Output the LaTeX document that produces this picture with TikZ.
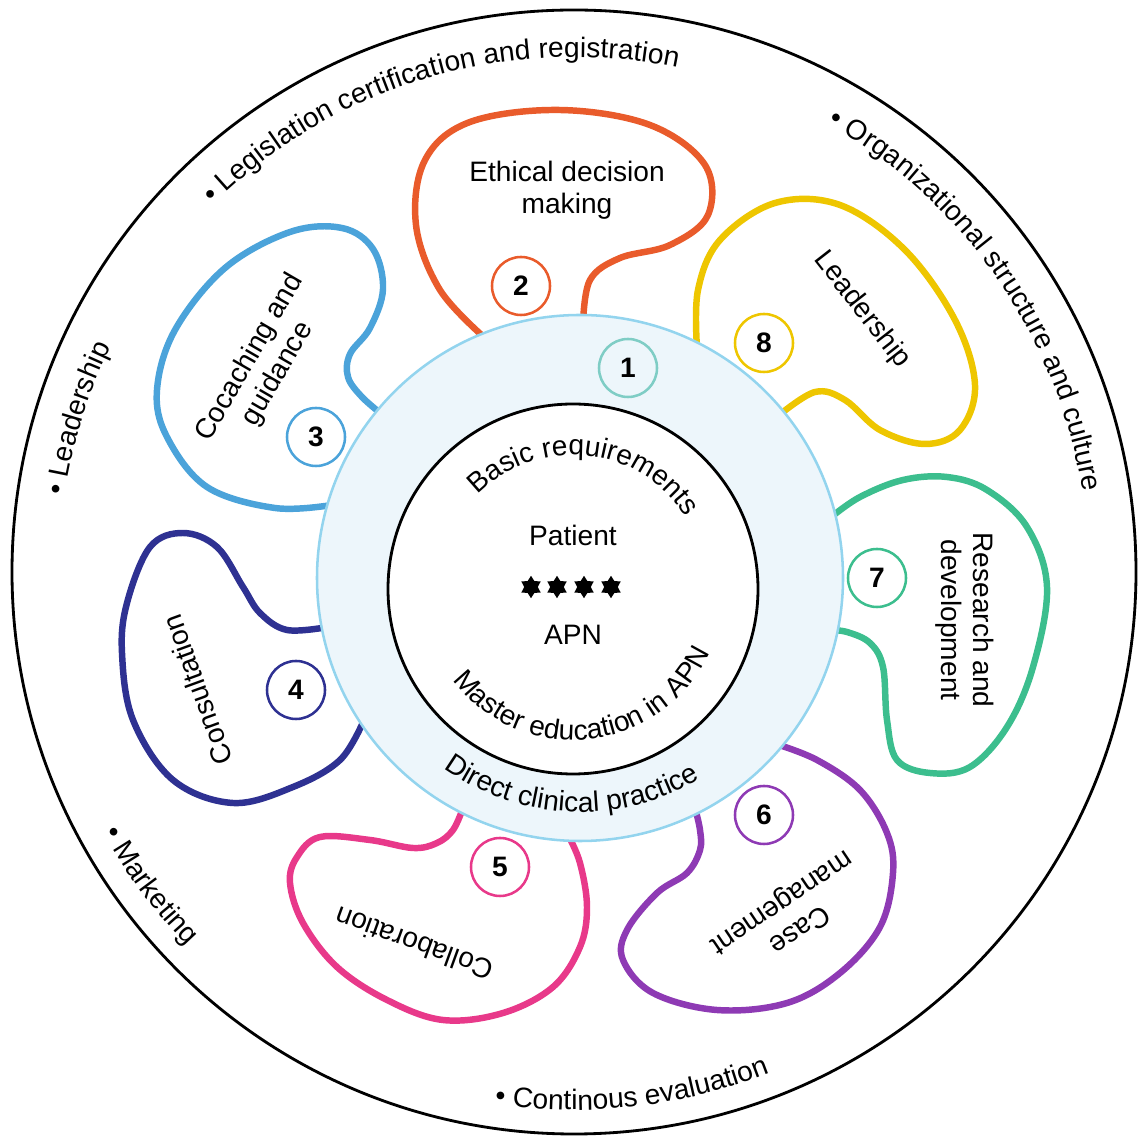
\documentclass[tikz,border=0pt]{standalone}
\usepackage{fontspec}
\setmainfont{Liberation Sans}
\usetikzlibrary{shapes.geometric,decorations.text}
\definecolor{ethred}{HTML}{E95B2B}
\definecolor{leadyellow}{HTML}{EEC600}
\definecolor{coachblue}{HTML}{4BA3DA}
\definecolor{consnavy}{HTML}{2E3192}
\definecolor{collpink}{HTML}{E8398A}
\definecolor{casepurple}{HTML}{8E3AB4}
\definecolor{resgreen}{HTML}{3CBE8E}
\definecolor{ringline}{HTML}{93D4EE}
\definecolor{ringfill}{HTML}{EDF6FB}
\definecolor{basicteal}{HTML}{7FCDC5}
\newcommand\lblfont{\fontsize{20}{23}\selectfont}
\newcommand\numfont{\fontsize{20}{23}\selectfont\bfseries}
\begin{document}
\begin{tikzpicture}[x=0.025cm, y=0.025cm,
        blob/.style = {line width=4.6pt, line join=round},
        num/.style = {circle, draw, line width=1.8pt, fill=white, minimum size=1.45cm, inner sep=0pt, font=\numfont},
        lbl/.style = {font=\lblfont, align=center},
        hexstar/.style = {star, star points=6, star point ratio=1.65, fill=black, inner sep=0pt, minimum size=0.56cm},
        arctext/.style = {decorate, decoration={text along path, text={|\lblfont|#1}}},
        arcmid/.style = {decorate, decoration={text along path, text align=center, text={|\lblfont|#1}}}
    ]
    \useasboundingbox (0,0) rectangle (1138,1139);
    \coordinate (O) at (574,567);
    \coordinate (R) at (580,561);
    \coordinate (I) at (573,550);
    \draw[line width=2pt] (O) circle[radius=562];
    % petals
    \draw[blob, ethred] plot[smooth, tension=0.6] coordinates {(486,800) (440,849) (416,914) (425,979) (470,1017) (560,1029) (650,1014) (705,974) (708,924) (670,894) (620,881) (590,859) (583,815)};
    \draw[blob, leadyellow] plot[smooth, tension=0.6] coordinates {(697,791) (698,849) (720,899) (775,936) (840,934) (905,889) (955,819) (975,754) (960,709) (925,695) (880,709) (845,739) (815,747) (778,723)};
    \draw[blob, coachblue] plot[smooth, tension=0.6] coordinates {(332,634) (275,631) (207,652) (167,702) (157,749) (175,809) (225,871) (290,907) (342,911) (373,890) (383,850) (370,811) (350,785) (348,762) (362,742) (384,723)};
    \draw[blob, consnavy] plot[smooth, tension=0.6] coordinates {(328,512) (287,509) (260,526) (243,552) (217,592) (183,606) (150,592) (127,536) (122,486) (133,419) (173,359) (233,336) (293,352) (340,379) (364,419)};
    \draw[blob, resgreen] plot[smooth, tension=0.6] coordinates {(830,621) (860,642) (903,659) (947,662) (987,649) (1027,612) (1047,552) (1033,472) (1007,412) (970,372) (930,366) (897,379) (887,419) (883,472) (870,496) (847,507) (828,509)};
    \draw[blob, casepurple] plot[smooth, tension=0.6] coordinates {(776,395) (817,379) (860,349) (887,306) (893,266) (880,212) (840,166) (787,136) (717,129) (653,146) (623,179) (627,209) (657,246) (687,266) (700,289) (700,309) (695,331)};
    \draw[blob, collpink] plot[smooth, tension=0.6] coordinates {(463,331) (453,309) (437,296) (413,291) (370,299) (320,302) (297,282) (290,256) (303,216) (337,172) (387,139) (443,119) (503,126) (553,152) (580,192) (587,232) (580,276) (568,304)};
    % rings
    \draw[line width=1.8pt, ringline, fill=ringfill] (R) circle[radius=263];
    \draw[line width=2pt, fill=white] (I) circle[radius=185];
    % centre
    \node[lbl] (patient) at (573,604) {Patient};
    \foreach \x [count=\i] in {531,557,584,611}
        \node[hexstar] (star\i) at (\x,552) {};
    \node[lbl] (apn) at (573,504) {APN};
    \path[arcmid={Basic requirements}] (I) ++(174:134) arc[start angle=174, end angle=-6, radius=134];
    \path[arcmid={Master education in APN}] (I) ++(186:151) arc[start angle=186, end angle=366, radius=151];
    \path[arcmid={Direct clinical practice}] (R) ++(177.6:234) arc[start angle=177.6, end angle=357.6, radius=234];
    % petal labels
    \node[lbl] (ethical) at (567,949) {Ethical decision\\making};
    \node[lbl, rotate=-52] (leader) at (862,829) {Leadership};
    \node[lbl, rotate=60] (coach) at (264,773) {Cocaching and\\guidance};
    \node[lbl, rotate=110] (consult) at (197,449) {Consultation};
    \node[lbl, rotate=160] (collab) at (414,195) {Collaboration};
    \node[lbl, rotate=214] (casem) at (790,224) {Case\\management};
    \node[lbl, rotate=-90] (research) at (965,519) {Research and\\development};
    % numbers
    \node[num, draw=basicteal, fill=ringfill] (n1) at (628,771) {1};
    \node[num, draw=ethred] (n2) at (521,853) {2};
    \node[num, draw=coachblue] (n3) at (316,702) {3};
    \node[num, draw=consnavy] (n4) at (296,449) {4};
    \node[num, draw=collpink] (n5) at (500,272) {5};
    \node[num, draw=casepurple] (n6) at (764,324) {6};
    \node[num, draw=resgreen] (n7) at (877,561) {7};
    \node[num, draw=leadyellow] (n8) at (764,796) {8};
    % outer ring
    \path[arctext={• Legislation certification and registration}] (O) ++(134.5:515) arc[start angle=134.5, end angle=60, radius=515];
    \path[arctext={• Organizational structure and culture}] (O) ++(60.5:515) arc[start angle=60.5, end angle=-10, radius=515];
    \path[arctext={• Leadership}] (O) ++(171.5:515) arc[start angle=171.5, end angle=130, radius=515];
    \path[arctext={• Marketing}] (O) ++(209:538) arc[start angle=209, end angle=250, radius=538];
    \path[arctext={• Continous evaluation}] (O) ++(261.5:538) arc[start angle=261.5, end angle=310, radius=538];
\end{tikzpicture}
\end{document}
